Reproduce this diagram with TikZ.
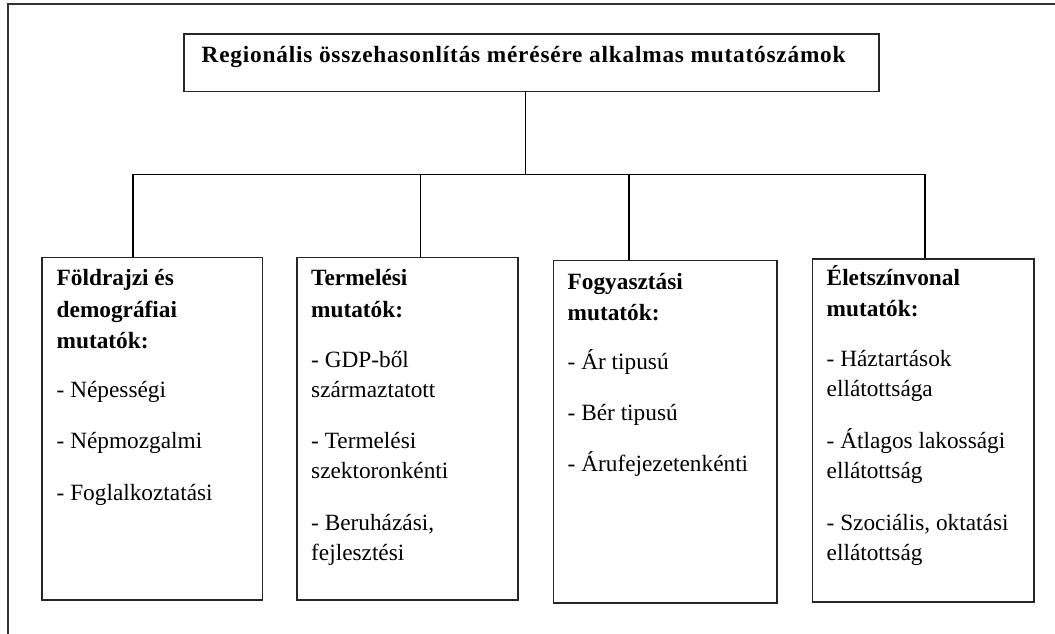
\documentclass[tikz,border=0pt]{standalone}
\usepackage{fontspec}
\setmainfont{Liberation Serif}
\begin{document}
\begin{tikzpicture}[x=1pt,y=-1pt,
  frame/.style={line width=2pt,draw=black!80},
  boxst/.style={draw=black!85,line width=1.5pt,rectangle,inner sep=0pt},
  conn/.style={draw=black,line width=1.3pt},
  hd/.style={anchor=base west,inner sep=0pt,font=\fontsize{23.3}{28}\selectfont\bfseries},
  it/.style={anchor=base west,inner sep=0pt,font=\fontsize{23.3}{28}\selectfont},
  ttlst/.style={anchor=base west,inner sep=0pt,font=\fontsize{23.3}{28}\selectfont\bfseries\addfontfeature{LetterSpace=3.4}}]
\useasboundingbox (0,0) rectangle (1055,634);
\fill[white] (0,0) rectangle (1055,634);
\draw[frame] (8,634) -- (8,4) -- (1055,4);
% title box
\node[boxst,minimum width=695pt,minimum height=57.5pt] (top) at (531.5,62.75) {};
\node[ttlst] (ttl) at (201.5,62.3) {Regionális összehasonlítás mérésére alkalmas mutatószámok};
% boxes
\node[boxst,minimum width=220.5pt,minimum height=342.5pt] (b1) at (152.25,428.75) {};
\node[boxst,minimum width=221pt,minimum height=342.7pt] (b2) at (407.5,428.65) {};
\node[boxst,minimum width=223.5pt,minimum height=342.3pt] (b3) at (665.25,431.85) {};
\node[boxst,minimum width=221.5pt,minimum height=343pt] (b4) at (923.25,430.5) {};
% connectors
\coordinate (j0) at (525.5,174.3);
\coordinate (j1) at (133,174.3);
\coordinate (j2) at (420.7,174.3);
\coordinate (j3) at (629,174.3);
\coordinate (j4) at (925,174.3);
\draw[conn] (top.south -| j0) -- (j0);
\draw[conn] (j1) -- (j4);
\draw[conn] (j1) -- (j1 |- b1.north);
\draw[conn] (j2) -- (j2 |- b2.north);
\draw[conn] (j3) -- (j3 |- b3.north);
\draw[conn] (j4) -- (j4 |- b4.north);
% box 1
\node[hd] (a1) at (56.5,285.7) {Földrajzi és};
\node[hd] (a2) at (56.5,317) {demográfiai};
\node[hd] (a3) at (56.5,348.3) {mutatók:};
\node[it] (a4) at (56.5,397) {- Népességi};
\node[it] (a5) at (56.5,448.5) {- Népmozgalmi};
\node[it] (a6) at (56.5,500) {- Foglalkoztatási};
% box 2
\node[hd] (c1) at (311,285.7) {Termelési};
\node[hd] (c2) at (311,317) {mutatók:};
\node[it] (c3) at (311,367) {- GDP-ből};
\node[it] (c4) at (311,397) {származtatott};
\node[it] (c5) at (311,448.5) {- Termelési};
\node[it] (c6) at (311,478.5) {szektoronkénti};
\node[it] (c7) at (311,530) {- Beruházási,};
\node[it] (c8) at (311,560) {fejlesztési};
% box 3
\node[hd] (d1) at (567.5,289.5) {Fogyasztási};
\node[hd] (d2) at (567.5,320.5) {mutatók:};
\node[it] (d3) at (567.5,369) {- Ár tipusú};
\node[it] (d4) at (567.5,420) {- Bér tipusú};
\node[it] (d5) at (567.5,471) {- Árufejezetenkénti};
% box 4
\node[hd] (e1) at (826.5,285.5) {Életszínvonal};
\node[hd] (e2) at (826.5,316.7) {mutatók:};
\node[it] (e3) at (826.5,366.7) {- Háztartások};
\node[it] (e4) at (826.5,396.7) {ellátottsága};
\node[it] (e5) at (826.5,448) {- Átlagos lakossági};
\node[it] (e6) at (826.5,478) {ellátottság};
\node[it] (e7) at (826.5,530) {- Szociális, oktatási};
\node[it] (e8) at (826.5,560) {ellátottság};
\end{tikzpicture}
\end{document}
